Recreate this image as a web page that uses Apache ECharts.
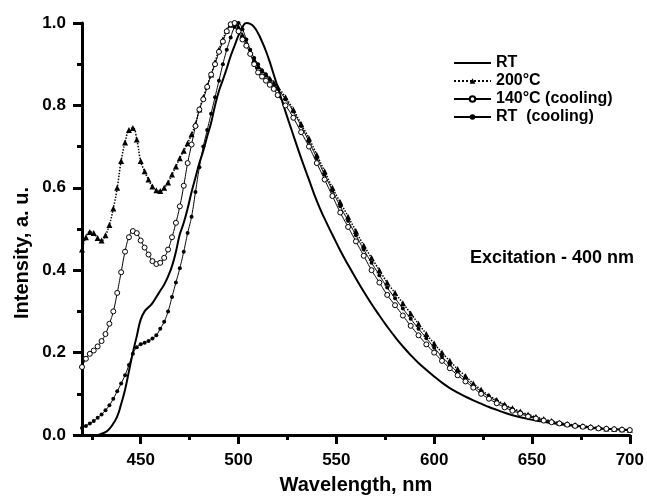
<!DOCTYPE html>
<html>
<head>
<meta charset="utf-8">
<script src="https://cdn.jsdelivr.net/npm/echarts@6/dist/echarts.min.js"></script>
<style>
  html, body { margin: 0; padding: 0; background: #fff; }
  #chart { width: 647px; height: 500px; }
</style>
</head>
<body>
<div id="chart"></div>
<script>
// wavelength grid, nm
const wavelength = [
  420, 422, 424, 426, 428, 430, 432, 434, 436, 438,
  440, 442, 444, 446, 448, 450, 452, 454, 456, 458,
  460, 462, 464, 466, 468, 470, 472, 474, 476, 478,
  480, 482, 484, 486, 488, 490, 492, 494, 496, 498,
  500, 502, 504, 506, 508, 510, 512, 514, 516, 518, 520,
  524, 528, 532, 536, 540, 544, 548, 552, 556, 560,
  564, 568, 572, 576, 580, 584, 588, 592, 596, 600,
  604, 608, 612, 616, 620, 624, 628, 632, 636, 640,
  644, 648, 652, 656, 660, 664, 668, 672, 676, 680,
  684, 688, 692, 696, 700
];

const rt = [
  0, 0, 0, 0, 0, 0.003, 0.007, 0.015, 0.028, 0.045,
  0.075, 0.11, 0.155, 0.2, 0.24, 0.28, 0.3, 0.31, 0.32, 0.335,
  0.35, 0.365, 0.385, 0.41, 0.445, 0.487, 0.515, 0.55, 0.59, 0.625,
  0.66, 0.69, 0.725, 0.758, 0.8, 0.835, 0.862, 0.89, 0.92, 0.945,
  0.97, 0.99, 1.0, 0.998, 0.99, 0.975, 0.955, 0.932, 0.905, 0.875, 0.845,
  0.785, 0.728, 0.672, 0.62, 0.568, 0.525, 0.486, 0.448, 0.413, 0.38,
  0.348, 0.318, 0.29, 0.263, 0.238, 0.215, 0.194, 0.175, 0.158, 0.142,
  0.127, 0.114, 0.103, 0.093, 0.084, 0.076, 0.068, 0.061, 0.054, 0.048,
  0.043, 0.039, 0.035, 0.032, 0.029, 0.026, 0.024, 0.022, 0.02, 0.018,
  0.016, 0.015, 0.014, 0.013, 0.012
];

const t200 = [
  0.45, 0.48, 0.493, 0.49, 0.478, 0.472, 0.485, 0.51, 0.55, 0.6,
  0.665, 0.71, 0.74, 0.745, 0.717, 0.665, 0.64, 0.62, 0.603, 0.594,
  0.592, 0.6, 0.613, 0.632, 0.652, 0.672, 0.69, 0.708, 0.73, 0.755,
  0.79, 0.82, 0.848, 0.875, 0.905, 0.935, 0.96, 0.982, 0.996, 1.0,
  0.99, 0.97, 0.95, 0.93, 0.91, 0.895, 0.885, 0.875, 0.865, 0.855, 0.845,
  0.82, 0.79, 0.755, 0.72, 0.68, 0.64, 0.6, 0.565, 0.53, 0.495,
  0.46, 0.43, 0.4, 0.37, 0.345, 0.32, 0.295, 0.27, 0.245, 0.222,
  0.2, 0.18, 0.16, 0.143, 0.125, 0.11, 0.096, 0.085, 0.074, 0.065,
  0.057, 0.05, 0.044, 0.039, 0.034, 0.03, 0.027, 0.024, 0.022, 0.02,
  0.018, 0.016, 0.015, 0.014, 0.013
];

const t140cool = [
  0.165, 0.185, 0.197, 0.205, 0.215, 0.228, 0.245, 0.27, 0.3, 0.345,
  0.395, 0.445, 0.48, 0.495, 0.49, 0.472, 0.455, 0.438, 0.422, 0.415,
  0.418, 0.43, 0.45, 0.48, 0.515, 0.555, 0.605, 0.66, 0.705, 0.75,
  0.79, 0.815, 0.845, 0.875, 0.9, 0.93, 0.955, 0.98, 0.997, 1.0,
  0.98, 0.96, 0.945, 0.925, 0.9, 0.88, 0.87, 0.86, 0.85, 0.84, 0.825,
  0.8, 0.77, 0.735, 0.7, 0.66, 0.62, 0.58, 0.54, 0.505, 0.47,
  0.435, 0.4, 0.37, 0.34, 0.315, 0.29, 0.265, 0.242, 0.22, 0.2,
  0.18, 0.162, 0.145, 0.13, 0.115, 0.1, 0.088, 0.077, 0.067, 0.059,
  0.052, 0.045, 0.04, 0.035, 0.031, 0.028, 0.025, 0.022, 0.02, 0.018,
  0.016, 0.015, 0.014, 0.013, 0.012
];

const rtCool = [
  0.017, 0.022, 0.028, 0.034, 0.042, 0.05, 0.06, 0.072, 0.088, 0.106,
  0.125, 0.145, 0.17, 0.197, 0.213, 0.22, 0.224, 0.228, 0.234, 0.242,
  0.258, 0.275, 0.3, 0.335, 0.37, 0.405, 0.445, 0.49, 0.53, 0.59,
  0.65, 0.7, 0.74, 0.78, 0.82, 0.86, 0.9, 0.935, 0.965, 0.99,
  1.0, 0.985, 0.96, 0.935, 0.915, 0.9, 0.885, 0.875, 0.862, 0.85, 0.84,
  0.815, 0.785, 0.75, 0.712, 0.672, 0.632, 0.593, 0.555, 0.52, 0.485,
  0.45, 0.418, 0.388, 0.358, 0.332, 0.307, 0.282, 0.258, 0.235, 0.212,
  0.19, 0.171, 0.152, 0.136, 0.12, 0.106, 0.093, 0.082, 0.072, 0.063,
  0.055, 0.048, 0.042, 0.037, 0.033, 0.029, 0.026, 0.023, 0.021, 0.019,
  0.017, 0.015, 0.014, 0.013, 0.012
];

const seriesNames = ['RT', '200°C', '140°C (cooling)', 'RT  (cooling)'];
const xMajorTicks = [450, 500, 550, 600, 650, 700];
const xMinorTicks = [425, 475, 525, 575, 625, 675];

const FONT = 'Liberation Sans';

const pairs = (ys) => wavelength.map((w, i) => [w, ys[i]]);

const myChart = echarts.init(document.getElementById('chart'), null, { renderer: 'canvas' });

const option = {
  animation: false,
  backgroundColor: '#fff',
  grid: { left: 82, right: 16, top: 23, bottom: 63 },
  legend: {
    orient: 'vertical',
    left: 453,
    top: 55,
    padding: 0,
    itemWidth: 37,
    itemHeight: 7,
    itemGap: 2,
    // plain line for RT, line + marker for the others
    data: [
      {
        name: seriesNames[0],
        icon: 'path://M0,0H37V2.2H0Z',
        itemStyle: { color: '#000', borderWidth: 0 }
      },
      { name: seriesNames[1] },
      { name: seriesNames[2] },
      { name: seriesNames[3] }
    ],
    textStyle: { fontFamily: FONT, fontWeight: 'bold', fontSize: 16, color: '#000', lineHeight: 16 }
  },
  xAxis: [
    {
      type: 'value',
      min: 420,
      max: 700,
      position: 'bottom',
      name: 'Wavelength, nm',
      nameLocation: 'middle',
      nameGap: 40,
      nameTextStyle: { fontFamily: FONT, fontWeight: 'bold', fontSize: 20, color: '#000' },
      splitLine: { show: false },
      axisLine: { lineStyle: { color: '#000', width: 3 } },
      axisTick: { customValues: xMajorTicks, length: 9, lineStyle: { width: 3, color: '#000' } },
      axisLabel: {
        customValues: xMajorTicks,
        margin: 17,
        fontFamily: FONT, fontWeight: 'bold', fontSize: 17, color: '#000'
      }
    },
    {
      // minor ticks only
      type: 'value',
      min: 420,
      max: 700,
      position: 'bottom',
      splitLine: { show: false },
      axisLine: { show: false },
      axisLabel: { show: false },
      axisTick: { customValues: xMinorTicks, length: 5, lineStyle: { width: 3, color: '#000' } }
    }
  ],
  yAxis: {
    type: 'value',
    min: 0,
    max: 1,
    interval: 0.2,
    splitLine: { show: false },
    axisLine: { show: true, lineStyle: { color: '#000', width: 3 } },
    axisTick: { show: true, length: 9, lineStyle: { width: 3, color: '#000' } },
    minorTick: { show: true, splitNumber: 2, length: 5, lineStyle: { width: 3, color: '#000' } },
    axisLabel: {
      margin: 16,
      formatter: (v) => v.toFixed(1),
      fontFamily: FONT, fontWeight: 'bold', fontSize: 17, color: '#000'
    }
  },
  graphic: [
    {
      type: 'text',
      x: 22,
      y: 253,
      rotation: Math.PI / 2,
      style: {
        text: 'Intensity, a. u.',
        fontFamily: FONT, fontWeight: 'bold', fontSize: 20, fill: '#000',
        textAlign: 'center', textVerticalAlign: 'middle'
      }
    },
    {
      type: 'text',
      left: 470,
      top: 249,
      style: {
        text: 'Excitation - 400 nm',
        fontFamily: FONT, fontWeight: 'bold', fontSize: 18, fill: '#000'
      }
    }
  ],
  series: [
    {
      name: seriesNames[0],
      type: 'line',
      data: pairs(rt),
      smooth: true,
      showSymbol: false,
      lineStyle: { color: '#000', width: 2 },
      itemStyle: { color: '#000' },
      z: 3
    },
    {
      name: seriesNames[1],
      type: 'line',
      data: pairs(t200),
      smooth: true,
      symbol: 'triangle',
      symbolSize: 6,
      lineStyle: { color: '#000', width: 1.5, type: 'dotted' },
      itemStyle: { color: '#000' },
      z: 2
    },
    {
      name: seriesNames[2],
      type: 'line',
      data: pairs(t140cool),
      smooth: true,
      symbol: 'circle',
      symbolSize: 5,
      lineStyle: { color: '#000', width: 1 },
      itemStyle: { color: '#fff', borderColor: '#000', borderWidth: 1 },
      z: 4
    },
    {
      name: seriesNames[3],
      type: 'line',
      data: pairs(rtCool),
      smooth: true,
      symbol: 'circle',
      symbolSize: 4,
      lineStyle: { color: '#000', width: 1 },
      itemStyle: { color: '#000' },
      z: 2
    }
  ]
};

myChart.setOption(option);
</script>
</body>
</html>
